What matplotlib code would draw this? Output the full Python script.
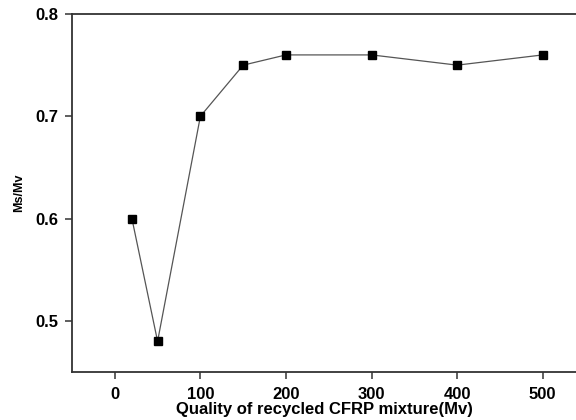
import matplotlib.pyplot as plt

# data
mv = [20, 50, 100, 150, 200, 300, 400, 500]
ms_mv = [0.60, 0.48, 0.70, 0.75, 0.76, 0.76, 0.75, 0.76]
xticks = [0, 100, 200, 300, 400, 500]
yticks = [0.5, 0.6, 0.7, 0.8]

plt.rcParams['font.family'] = ['Liberation Sans', 'DejaVu Sans']
plt.rcParams['font.weight'] = 'bold'

fig = plt.figure(figsize=(5.76, 4.2), dpi=100)
ax = fig.add_axes((72 / 576, 48 / 420, 505 / 576, 358 / 420))

ax.plot(mv, ms_mv, color='#555555', linewidth=0.9, marker='s',
        markersize=5.5, markerfacecolor='black', markeredgecolor='black')

ax.set_xlim(-50, 540)
ax.set_ylim(0.45, 0.8)
ax.set_xticks(xticks)
ax.set_yticks(yticks)
ax.set_xticklabels([str(t) for t in xticks])
ax.set_yticklabels([f'{t:.1f}' for t in yticks])

for side in ['left', 'bottom', 'top']:
    ax.spines[side].set_color('#333333')
    ax.spines[side].set_linewidth(1.3)
ax.spines['right'].set_visible(False)

ax.tick_params(direction='out', length=5, width=1.1, color='#333333',
               labelsize=12, pad=5)
ax.tick_params(axis='x', pad=6)

ax.set_xlabel('Quality of recycled CFRP mixture(Mv)', fontsize=12,
              fontweight='bold', labelpad=0)
ax.set_ylabel('Ms/Mv', fontsize=9, fontweight='bold', labelpad=7)

fig.savefig('out.png', dpi=100)
